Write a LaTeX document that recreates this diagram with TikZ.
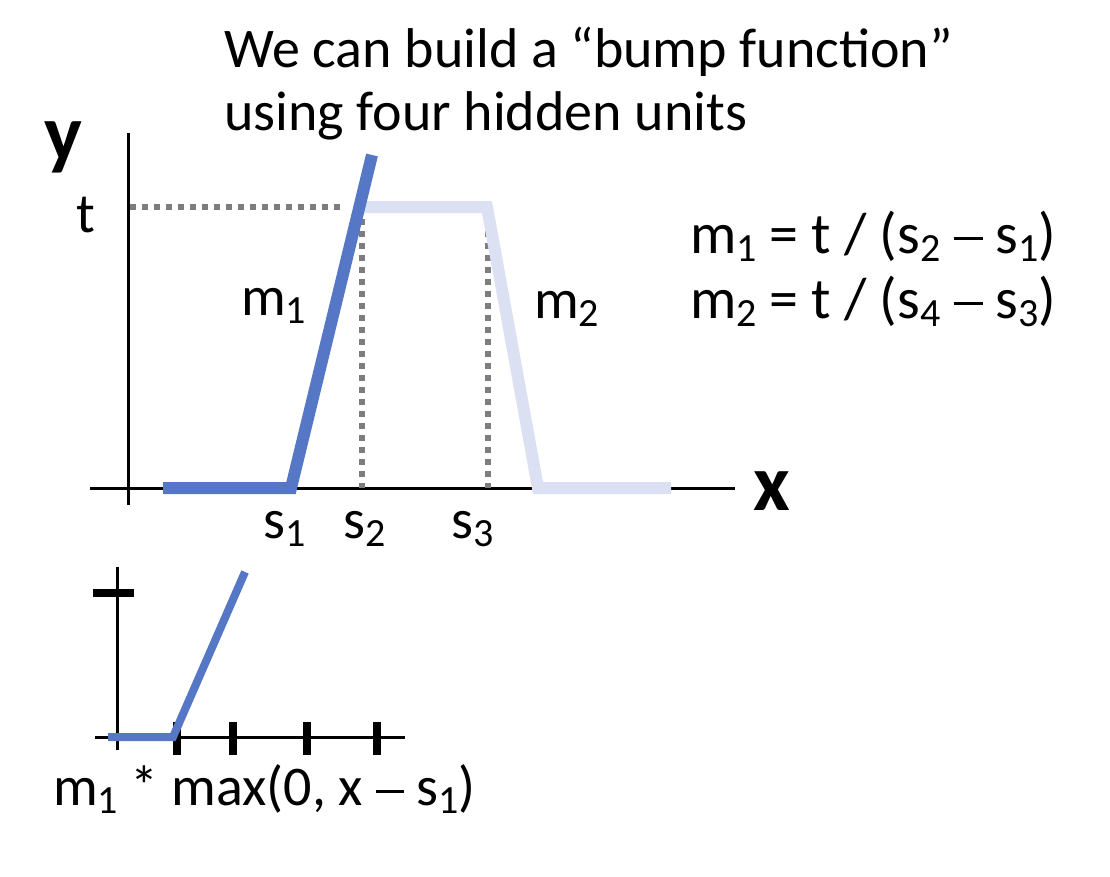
\documentclass[tikz,border=0pt]{standalone}
\usepackage{fontspec}
\setmainfont{Carlito}
\usetikzlibrary{positioning}
\definecolor{bumpblue}{RGB}{86,118,198}
\definecolor{bumplight}{RGB}{219,225,242}
\definecolor{guidegray}{RGB}{125,125,125}
\newcommand{\lo}[1]{\raisebox{-8pt}{\fontsize{40}{40}\selectfont #1}}
\newcommand{\dash}{\raisebox{0.22em}{\rule{0.5em}{0.055em}}}

\begin{document}
\begin{tikzpicture}[x=1pt,y=-1pt,
  txt/.style={inner sep=0pt,anchor=base west,font=\fontsize{56}{60}\selectfont},
  eqtxt/.style={txt,font=\fontsize{58}{60}\selectfont},
  axislbl/.style={txt,font=\fontsize{80}{80}\selectfont\bfseries},
  axis/.style={line width=3pt,black},
  guide/.style={line width=6pt,guidegray,dash pattern=on 6pt off 6pt},
  ramp/.style={line width=12pt,bumpblue},
  rampoff/.style={line width=12pt,bumplight},
  tick/.style={line width=8pt,black}]
\useasboundingbox (0,0) rectangle (1110,876);
% title
\node[txt] (title1) at (224,67) {We can build a “bump function”};
\node[txt] (title2) at (224,130) {using four hidden units};
% main plot
\draw[axis] (128,133) -- (128,505);
\draw[axis] (90,488) -- (735,488);
\node[axislbl] (ylbl) at (44,160) {y};
\node[axislbl] (xlbl) at (753,510) {x};
\node[txt] (tlbl) at (76,232) {t};
\draw[guide] (130,207) -- (345,207);
\draw[guide] (362,207) -- (362,488);
\draw[guide] (488,207) -- (488,488);
\coordinate (p0) at (163,488);
\coordinate (s1) at (291,488);
\coordinate (top) at (372,155);
\coordinate (q0) at (364,207);
\coordinate (s3) at (487,207);
\coordinate (s4) at (538,488);
\coordinate (q1) at (671,488);
\draw[rampoff] (q0) -- (s3) -- (s4) -- (q1);
\draw[ramp] (p0) -- (s1) -- (top);
\node[txt] (m1) at (241,315) {m\lo{1}};
\node[txt] (m2) at (534,318) {m\lo{2}};
\node[txt] (s1lbl) at (263,538) {s\lo{1}};
\node[txt] (s2lbl) at (343,538) {s\lo{2}};
\node[txt] (s3lbl) at (451,538) {s\lo{3}};
\node[eqtxt] (eq1) at (690,253) {m\lo{1} = t / (s\lo{2} \dash{} s\lo{1})};
\node[eqtxt] (eq2) at (690,318) {m\lo{2} = t / (s\lo{4} \dash{} s\lo{3})};
% single unit
\draw[axis] (117,567) -- (117,750);
\draw[axis] (95,737) -- (405,737);
\draw[tick] (93,593) -- (134,593);
\foreach \tx in {177,233,307,377}
  \draw[tick] (\tx,722) -- (\tx,755);
\draw[line width=8pt,bumpblue] (108,737) -- (173,737) -- (245,572);
\node[txt] (relu) at (53,805) {m\lo{1} * max(0, x \dash{} s\lo{1})};
\end{tikzpicture}
\end{document}
